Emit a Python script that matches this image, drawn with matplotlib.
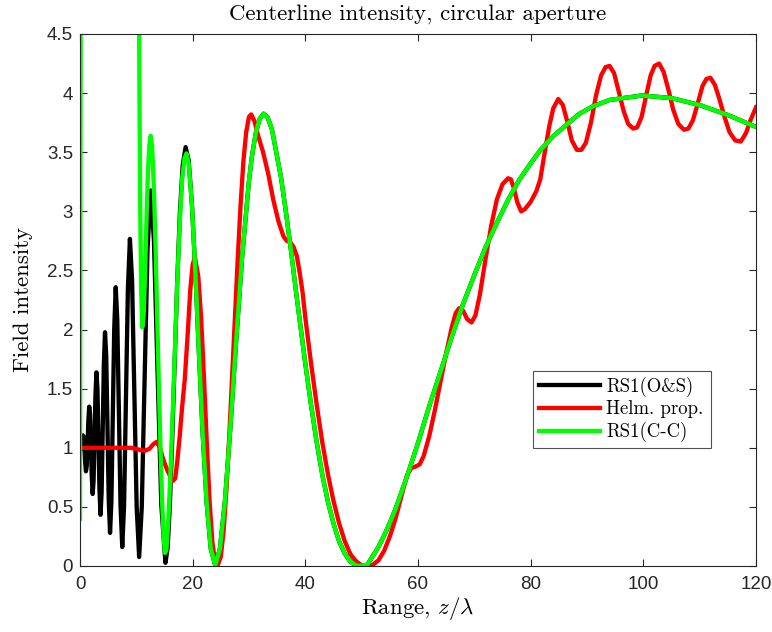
import matplotlib
matplotlib.use("Agg")
import matplotlib.pyplot as plt

# ---------------- data ----------------
# RS1 (O&S): on-axis intensity vs range z/lambda
black_z = [0.0, 0.126, 0.253, 0.382, 0.513, 0.646, 0.780, 0.917, 1.056, 1.196,
           1.339, 1.485, 1.632, 1.783, 1.936, 2.091, 2.250, 2.412, 2.577, 2.745,
           2.917, 3.092, 3.272, 3.455, 3.643, 3.835, 4.032, 4.235, 4.442, 4.656,
           4.875, 5.101, 5.333, 5.573, 5.821, 6.076, 6.341, 6.615, 6.899, 7.194,
           7.500, 7.819, 8.151, 8.498, 8.861, 9.241, 9.640, 10.059, 10.500, 10.966,
           11.458, 11.981, 12.536, 13.127, 13.760, 14.438, 15.167, 15.553, 15.954, 16.372,
           16.807, 17.261, 17.735, 18.231, 18.750, 19.294]
black_i = [1.000, 0.982, 1.001, 1.056, 1.105, 1.095, 1.006, 0.879, 0.801, 0.846,
           1.018, 1.229, 1.348, 1.279, 1.036, 0.752, 0.609, 0.723, 1.062, 1.444,
           1.638, 1.505, 1.097, 0.645, 0.433, 0.622, 1.140, 1.704, 1.977, 1.775,
           1.192, 0.564, 0.280, 0.549, 1.253, 2.004, 2.358, 2.085, 1.323, 0.515,
           0.160, 0.508, 1.399, 2.335, 2.767, 2.420, 1.482, 0.500, 0.076, 0.501,
           1.568, 2.675, 3.177, 2.758, 1.654, 0.513, 0.027, 0.153, 0.520, 1.075,
           1.739, 2.411, 2.991, 3.389, 3.543, 3.429]

# far range, where RS1(O&S) and RS1(C-C) coincide
far_z = [19.865, 20.465, 21.097, 21.763, 22.467, 23.211, 24.000, 24.838, 25.729, 26.680,
         27.696, 28.786, 29.957, 30.5, 31.219, 31.9, 32.583, 33.3, 34.064, 35.676,
         36.5, 37.439, 38.35, 39.375, 40.0, 41.0, 42.0, 43.0, 44.0, 45.0,
         46.0, 47.0, 48.0, 49.0, 49.5, 51.0, 52.0, 53.0, 54.0, 55.0,
         56.0, 57.0, 58.0, 59.0, 60.0, 62.0, 64.0, 66.0, 68.0, 70.0,
         72.0, 74.0, 76.0, 78.0, 80.0, 81.7, 84.0, 88.6, 91.0, 94.0,
         99.75, 105.0, 110.0, 115.0, 120.0]
far_i = [3.061, 2.495, 1.817, 1.130, 0.543, 0.146, 0.006, 0.146, 0.551, 1.160,
         1.885, 2.615, 3.241, 3.460, 3.667, 3.783, 3.826, 3.796, 3.694, 3.289,
         3.014, 2.673, 2.320, 1.939, 1.710, 1.367, 1.052, 0.775, 0.546, 0.359,
         0.208, 0.104, 0.037, 0.004, 0.000, 0.010, 0.086, 0.163, 0.259, 0.366,
         0.481, 0.617, 0.751, 0.897, 1.041, 1.353, 1.643, 1.940, 2.215, 2.461,
         2.697, 2.903, 3.098, 3.268, 3.405, 3.517, 3.636, 3.824, 3.887, 3.942,
         3.980, 3.958, 3.899, 3.815, 3.714]

# RS1 (C-C) near range (large values near the aperture are off the chart)
green_near_z = [0.0, 0.12, 0.3, 10.3, 10.45, 10.55, 10.7, 10.85, 11.05, 11.3,
                11.55, 11.8, 12.05, 12.3, 12.55, 12.8, 13.1, 13.4, 13.7, 14.0,
                14.3, 14.6, 14.85, 15.1, 15.35, 15.65, 16.0, 16.4, 16.8, 17.25,
                17.7, 18.15, 18.55, 18.9, 19.3]
green_near_i = [0.40, 4.8, 12.0, 12.0, 5.0, 4.0, 3.0, 2.35, 2.02, 2.12,
                2.48, 2.92, 3.32, 3.56, 3.64, 3.55, 3.22, 2.72, 2.12, 1.52,
                0.98, 0.52, 0.24, 0.11, 0.14, 0.36, 0.72, 1.22, 1.76, 2.38,
                2.90, 3.28, 3.45, 3.49, 3.40]

# Helmholtz propagation
red_z = [0, 2, 4, 6, 8, 9, 10, 10.8, 11.5, 12.3,
         13.0, 13.6, 14.2, 14.6, 15.0, 15.5, 16.0, 16.5, 16.9, 17.3,
         17.7, 18.1, 18.6, 19.1, 19.6, 20.0, 20.4, 21.0, 21.5, 22.0,
         22.5, 23.0, 23.5, 24.0, 24.4, 25.0, 25.5, 26.0, 26.5, 27.0,
         27.5, 28.0, 28.5, 29.0, 29.5, 30.0, 30.4, 31.0, 31.5, 32.0,
         32.5, 33.4, 34.3, 35.2, 36.1, 36.7, 37.3, 37.9, 38.5, 39.0,
         39.5, 40.0, 41.0, 42.0, 43.0, 44.0, 45.0, 46.0, 47.0, 48.0,
         49.0, 50.0, 51.0, 52.0, 53.0, 54.0, 55.0, 56.0, 57.0, 58.0,
         58.8, 59.5, 60.3, 61.0, 62.0, 63.0, 64.0, 65.0, 66.0, 66.7,
         67.3, 68.0, 68.7, 69.5, 70.2, 71.0, 72.0, 73.0, 74.0, 75.0,
         76.0, 76.5, 77.0, 77.6, 78.3, 79.0, 80.0, 81.0, 81.7, 82.5,
         83.3, 84.0, 84.9, 85.7, 86.5, 87.3, 88.2, 89.0, 89.8, 90.7,
         91.6, 92.5, 93.3, 94.0, 94.8, 95.6, 96.5, 97.3, 98.2, 98.9,
         99.7, 100.5, 101.3, 102.0, 102.8, 103.6, 104.5, 105.3, 106.2, 107.2,
         108.0, 108.8, 109.7, 110.5, 111.2, 111.9, 112.7, 113.5, 114.4, 115.3,
         116.3, 117.3, 118.2, 119.1, 120.0]
red_i = [1.00, 1.00, 1.00, 1.00, 1.00, 1.00, 0.99, 0.98, 0.975, 0.99,
         1.03, 1.05, 1.00, 0.93, 0.87, 0.81, 0.76, 0.72, 0.74, 0.90,
         1.10, 1.33, 1.58, 1.95, 2.35, 2.55, 2.61, 2.45, 2.10, 1.60,
         1.05, 0.55, 0.20, 0.03, 0.00, 0.08, 0.30, 0.65, 1.10, 1.60,
         2.10, 2.60, 3.05, 3.42, 3.67, 3.80, 3.82, 3.76, 3.66, 3.58,
         3.50, 3.32, 3.10, 2.92, 2.79, 2.75, 2.74, 2.70, 2.62, 2.48,
         2.32, 2.10, 1.72, 1.37, 1.05, 0.78, 0.55, 0.36, 0.21, 0.10,
         0.04, 0.005, 0.00, 0.01, 0.05, 0.13, 0.25, 0.40, 0.58, 0.76,
         0.83, 0.84, 0.86, 0.93, 1.10, 1.32, 1.56, 1.80, 2.02, 2.14,
         2.18, 2.16, 2.09, 2.06, 2.12, 2.30, 2.60, 2.88, 3.10, 3.23,
         3.28, 3.27, 3.20, 3.08, 3.00, 3.02, 3.08, 3.17, 3.27, 3.50,
         3.72, 3.87, 3.95, 3.90, 3.76, 3.60, 3.52, 3.52, 3.58, 3.75,
         3.98, 4.15, 4.22, 4.23, 4.17, 4.02, 3.85, 3.74, 3.70, 3.71,
         3.80, 3.98, 4.15, 4.23, 4.25, 4.18, 4.02, 3.86, 3.74, 3.69,
         3.70, 3.77, 3.92, 4.06, 4.12, 4.13, 4.07, 3.95, 3.80, 3.67,
         3.60, 3.59, 3.66, 3.78, 3.88]

labels = ['RS1(O&S)', 'Helm. prop.', 'RS1(C-C)']
xticks = [0, 20, 40, 60, 80, 100, 120]
yticks = [0, 0.5, 1, 1.5, 2, 2.5, 3, 3.5, 4, 4.5]
ytick_labels = ['0', '0.5', '1', '1.5', '2', '2.5', '3', '3.5', '4', '4.5']

# ---------------- plotting ----------------
plt.rcParams['mathtext.fontset'] = 'cm'
plt.rcParams['axes.unicode_minus'] = False
serif = ['cmr10', 'DejaVu Serif']

fig = plt.figure(figsize=(7.72, 6.32), dpi=100)
ax = fig.add_axes([80 / 772, 66 / 632, 676 / 772, 532 / 632])

lw = 3.1
ax.plot(black_z + far_z, black_i + far_i, color='black', lw=lw, label=labels[0],
        solid_joinstyle='round')
ax.plot(red_z, red_i, color=(1, 0, 0), lw=lw, label=labels[1], solid_joinstyle='round')
ax.plot(green_near_z + far_z, green_near_i + far_i, color=(0, 1, 0), lw=lw,
        label=labels[2], solid_joinstyle='round')

ax.set_xlim(0, 120)
ax.set_ylim(0, 4.5)
ax.set_xticks(xticks)
ax.set_xticklabels([str(v) for v in xticks])
ax.set_yticks(yticks)
ax.set_yticklabels(ytick_labels)

axcol = '#262626'
for s in ax.spines.values():
    s.set_color(axcol)
    s.set_linewidth(0.8)
ax.tick_params(direction='in', top=True, right=True, length=5, width=0.8,
               color=axcol, labelcolor=axcol, labelsize=13.5)
ax.tick_params(axis='x', pad=7)
ax.tick_params(axis='y', pad=5)
for t in ax.get_xticklabels() + ax.get_yticklabels():
    t.set_fontfamily('Liberation Sans')

ax.set_title('Centerline intensity, circular aperture', fontsize=16.5, pad=10,
             family=serif)
ax.set_xlabel(r'Range, $z/\lambda$', fontsize=16.5, labelpad=2, family=serif)
ax.set_ylabel('Field intensity', fontsize=16.5, labelpad=10, family=serif)

leg = ax.legend(loc='lower left', bbox_to_anchor=(0.670, 0.222, 0.263, 0.143),
                mode='expand', frameon=True, fancybox=False, borderaxespad=0,
                handlelength=3.3, handletextpad=0.3, borderpad=0.3,
                labelspacing=0.2, prop={'family': serif, 'size': 13.5})
leg.get_frame().set_edgecolor(axcol)
leg.get_frame().set_linewidth(0.8)

fig.savefig('out.png', dpi=100)
